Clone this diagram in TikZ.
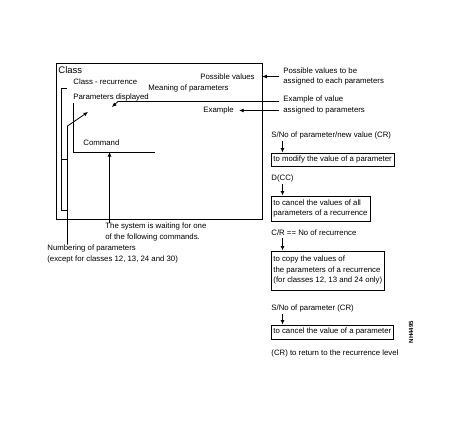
\documentclass[tikz,border=0pt]{standalone}
\usepackage{fontspec}
\setmainfont{Liberation Sans}
\usetikzlibrary{arrows.meta,positioning}

\begin{document}
\begin{tikzpicture}[
                x=1pt, y=-1pt,
                line width=0.8pt,
                font=\fontsize{7.8pt}{10.5pt}\selectfont,
                lbl/.style={anchor=west, inner sep=0pt, align=left},
                cmdbox/.style={draw, anchor=north west, align=left, inner xsep=2.5pt, inner ysep=1.5pt},
                ptr/.style={-{Latex[length=4.5pt, width=4pt]}},
            ]
            \useasboundingbox (0,0) rectangle (468,447);
            % --- screen frame ---
            \node[draw, anchor=north west, minimum width=206pt, minimum height=156pt, inner sep=0pt] (screen) at (55.5,62.5) {};
            \node[lbl, font=\fontsize{9.5pt}{12pt}\selectfont] (tClass) at (58,70.5) {Class};
            \node[lbl] (tRec) at (73,82) {Class - recurrence};
            \node[lbl, anchor=east] (tPoss) at (255,77) {Possible values};
            \node[lbl] (tMean) at (148,88) {Meaning of parameters};
            \node[lbl] (tDisp) at (73,97) {Parameters displayed};
            \node[lbl] (tEx) at (203,110) {Example};
            \node[lbl] (tCmd) at (83,143) {Command};
            % --- screen fields ---
            \coordinate (brTop) at (66.5,88.5);
            \coordinate (brMid) at (61.5,159.5);
            \coordinate (brBot) at (66.5,210.5);
            \draw (brTop) -| (brBot -| brMid) -- (brBot);
            \draw (brMid) -- (brMid -| brTop);
            \coordinate (cmdTop) at (73.5,103);
            \coordinate (cmdEnd) at (155,152.5);
            \draw (cmdTop) |- (cmdEnd);
            % --- notes round the screen ---
            \node[lbl] (nPoss) at (283,76.5) {Possible values to be\\assigned to each parameters};
            \node[lbl] (nEx) at (283,105) {Example of value\\assigned to parameters};
            \node[lbl] (nWait) at (105,232) {The system is waiting for one\\of the following commands.};
            \node[lbl] (nNum) at (47,254) {Numbering of parameters\\(except for classes 12, 13, 24 and 30)};
            \coordinate (exStart) at (279,101.5);
            \coordinate (exBend) at (118,101.5);
            \coordinate (exTip) at (112,107);
            \coordinate (exB) at (279,110.5);
            \coordinate (numTop) at (67.5,126);
            \coordinate (numTip) at (88,112);
            \coordinate (waitTip) at (109.5,152);
            \draw[ptr] ([xshift=-4pt]nPoss.west) -- (nPoss.west -| screen.east);
            \draw[ptr] (exStart) -- (exBend) -- (exTip);
            \draw[ptr] (exB) -- ([xshift=5pt]tEx.east |- exB);
            \draw[ptr] (nNum.north -| numTop) -- (numTop) -- (numTip);
            \draw[ptr] (nWait.north -| waitTip) -- (waitTip);
            % --- commands ---
            \node[lbl] (sNew) at (271,135) {S/No of parameter/new value (CR)};
            \node[cmdbox, minimum height=13pt] (bModify) at (270.5,152.5) {to modify the value of a parameter};
            \node[lbl] (sCC) at (271,178) {D(CC)};
            \node[cmdbox, minimum height=25pt] (bCancel) at (270.5,195.5) {to cancel the values of all\\parameters of a recurrence};
            \node[lbl] (sCR) at (271,233) {C/R == No of recurrence};
            \node[cmdbox, minimum height=39pt] (bCopy) at (270.5,250.5) {to copy the values of\\the parameters of a recurrence\\(for classes 12, 13 and 24 only)};
            \node[lbl] (sPar) at (271,308) {S/No of parameter (CR)};
            \node[cmdbox, minimum height=14pt] (bCancelOne) at (270.5,324.5) {to cancel the value of a parameter};
            \node[lbl] (sRet) at (271,353) {(CR) to return to the recurrence level};
            \foreach \a/\b in {sNew/bModify, sCC/bCancel, sCR/bCopy, sPar/bCancelOne}
                \draw[ptr, shorten <=2pt] ([xshift=11.5pt]\a.south west) -- ([xshift=12pt]\b.north west);
            \node[font=\fontsize{6pt}{7pt}\selectfont\bfseries, rotate=90, inner sep=0pt] (figId) at (411,332) {NH4495};
        \end{tikzpicture}
\end{document}
